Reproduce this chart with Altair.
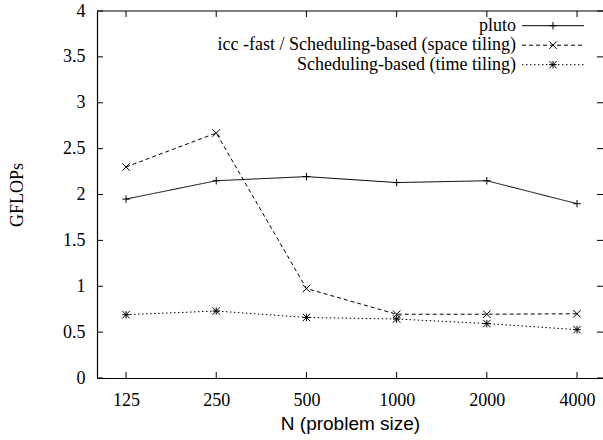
import altair as alt
import pandas as pd

# ---- data ----
sizes = [125, 250, 500, 1000, 2000, 4000]
pluto = [1.95, 2.15, 2.195, 2.13, 2.15, 1.90]
icc_space = [2.30, 2.67, 0.975, 0.695, 0.695, 0.70]
time_tiling = [0.69, 0.73, 0.66, 0.643, 0.593, 0.527]
series_names = [
    "pluto",
    "icc -fast / Scheduling-based (space tiling)",
    "Scheduling-based (time tiling)",
]
y_ticks = [0, 0.5, 1, 1.5, 2, 2.5, 3, 3.5, 4]

# ---- layout / style ----
W, H = 506, 367
SERIF = "Liberation Serif"
SANS = "Liberation Sans"
dashes = [[1, 0], [4, 3], [1.5, 2.5]]
PLUS = "M-1,0H1M0,-1V1"
CROSS = "M-1,-1L1,1M-1,1L1,-1"
STAR = PLUS + CROSS
shapes = [PLUS, CROSS, STAR]

rows = []
for name, vals in zip(series_names, [pluto, icc_space, time_tiling]):
    for n, v in zip(sizes, vals):
        rows.append({"N": n, "GFLOPs": v, "series": name})
df = pd.DataFrame(rows)

x_scale = alt.Scale(type="log", domain=[100, 4884], nice=False)
y_scale = alt.Scale(domain=[0, 4], nice=False, zero=False)

x_axis = alt.Axis(
    values=sizes, format="d", ticks=False, domain=True, domainColor="black",
    domainWidth=1.2, grid=False,
    labelFont=SERIF, labelFontSize=18, labelColor="black", labelPadding=13,
    labelFlush=False, labelOverlap=False,
    title="N (problem size)", titleFont=SANS, titleFontSize=19,
    titleFontWeight="normal", titleColor="black", titleY=51,
    titleBaseline="alphabetic",
)
y_axis = alt.Axis(
    values=y_ticks, format="~g", ticks=False, domain=True, domainColor="black",
    domainWidth=1.2, grid=False,
    labelFont=SERIF, labelFontSize=18, labelColor="black", labelPadding=12,
    labelFlush=False, labelOverlap=False,
    title="GFLOPs", titleFont=SERIF, titleFontSize=18, titleFontWeight="normal",
    titleColor="black", titleX=-80, titleY=H / 2, titleAlign="center",
    titleBaseline="middle", titleAngle=-90,
)

x_enc = alt.X("N:Q", scale=x_scale, axis=x_axis)
y_enc = alt.Y("GFLOPs:Q", scale=y_scale, axis=y_axis)

lines = alt.Chart(df).mark_line(color="black", strokeWidth=1).encode(
    x=x_enc, y=y_enc,
    strokeDash=alt.StrokeDash("series:N", scale=alt.Scale(domain=series_names, range=dashes), legend=None),
)
points = alt.Chart(df).mark_point(filled=False, color="black", strokeWidth=1, size=56, opacity=1).encode(
    x=x_enc, y=y_enc,
    shape=alt.Shape("series:N", scale=alt.Scale(domain=series_names, range=shapes), legend=None),
)

# top frame line (right border lies outside the picture in the reference)
top_line = alt.Chart(pd.DataFrame({"k": [0]})).mark_rule(color="black", strokeWidth=1.2).encode(
    x=alt.value(0), x2=alt.value(W), y=alt.value(0))

# inward ticks, mirrored (gnuplot style)
yt = pd.DataFrame({"GFLOPs": y_ticks})
xt = pd.DataFrame({"N": sizes})
tick_layers = [
    alt.Chart(yt).mark_rule(color="black", strokeWidth=1).encode(
        y=alt.Y("GFLOPs:Q", scale=y_scale), x=alt.value(0), x2=alt.value(6)),
    alt.Chart(yt).mark_rule(color="black", strokeWidth=1).encode(
        y=alt.Y("GFLOPs:Q", scale=y_scale), x=alt.value(W - 6), x2=alt.value(W)),
    alt.Chart(xt).mark_rule(color="black", strokeWidth=1).encode(
        x=alt.X("N:Q", scale=x_scale), y=alt.value(H), y2=alt.value(H - 6)),
    alt.Chart(xt).mark_rule(color="black", strokeWidth=1).encode(
        x=alt.X("N:Q", scale=x_scale), y=alt.value(0), y2=alt.value(6)),
]

# gnuplot-style key (text left of sample)
legend_layers = []
for i, name in enumerate(series_names):
    ly = 14.7 + 19.5 * i
    ld = pd.DataFrame({"label": [name]})
    legend_layers.append(
        alt.Chart(ld).mark_text(align="right", baseline="middle", font=SERIF,
                                fontSize=18, color="black").encode(
            x=alt.value(419), y=alt.value(ly), text="label:N"))
    rule_kw = dict(color="black", strokeWidth=1)
    if i > 0:
        rule_kw["strokeDash"] = dashes[i]
    legend_layers.append(
        alt.Chart(ld).mark_rule(**rule_kw).encode(
            x=alt.value(425), x2=alt.value(487), y=alt.value(ly)))
    legend_layers.append(
        alt.Chart(ld).mark_point(shape=shapes[i], filled=False, color="black",
                                 strokeWidth=1, size=56, opacity=1).encode(
            x=alt.value(456), y=alt.value(ly)))

chart = alt.layer(lines, points, top_line, *tick_layers, *legend_layers).properties(
    width=W, height=H,
    autosize=alt.AutoSizeParams(type="none"),
    padding={"left": 97, "top": 11, "right": 0, "bottom": 62},
    background="white",
).configure_view(stroke=None)

chart.save("out.html", embed_options={"renderer": "svg", "actions": False})
